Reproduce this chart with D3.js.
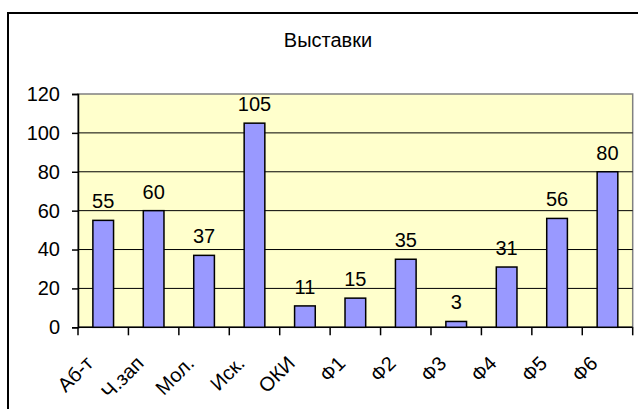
<!DOCTYPE html>
<html>
<head>
<meta charset="utf-8">
<script src="https://cdn.jsdelivr.net/npm/d3@7"></script>
<style>
  html, body { margin: 0; padding: 0; background: #fff; }
  svg { display: block; font-family: "Liberation Sans", Arial, sans-serif; }
</style>
</head>
<body>
<svg id="chart"></svg>
<script>
// 1) Data -----------------------------------------------------------
const categories = ['Аб-т', 'Ч.зап', 'Мол.', 'Иск.', 'ОКИ', 'Ф1', 'Ф2', 'Ф3', 'Ф4', 'Ф5', 'Ф6'];
const values = [55, 60, 37, 105, 11, 15, 35, 3, 31, 56, 80];
const yTicks = [0, 20, 40, 60, 80, 100, 120];
const title = 'Выставки';

// 2) Dimensions -----------------------------------------------------
const width = 638;
const height = 409;
const plot = { left: 78, top: 94, right: 632.7, bottom: 327.3 };
const fontSize = 20;

const svg = d3.select('#chart')
  .attr('width', width)
  .attr('height', height);

// 3) Outer frame (cut off at right and bottom) ----------------------
svg.append('rect')
  .attr('x', 8)
  .attr('y', 13)
  .attr('width', 700)
  .attr('height', 500)
  .attr('fill', '#fff')
  .attr('stroke', '#000')
  .attr('stroke-width', 2);

svg.append('text')
  .attr('x', 328)
  .attr('y', 47)
  .attr('text-anchor', 'middle')
  .attr('font-size', fontSize)
  .attr('fill', '#000')
  .text(title);

// 4) Scales ---------------------------------------------------------
const x = d3.scaleBand()
  .domain(categories)
  .range([plot.left, plot.right])
  .paddingInner(0.59)
  .paddingOuter(0.295);

const y = d3.scaleLinear()
  .domain([0, 120])
  .range([plot.bottom, plot.top]);

// 5) Plot area ------------------------------------------------------
svg.append('rect')
  .attr('x', plot.left)
  .attr('y', plot.top)
  .attr('width', plot.right - plot.left)
  .attr('height', plot.bottom - plot.top)
  .attr('fill', '#ffffcc')
  .attr('stroke', '#808080')
  .attr('stroke-width', 1.5);

svg.append('g')
  .selectAll('line')
  .data(yTicks.filter(d => d > 0 && d < 120))
  .enter().append('line')
  .attr('x1', plot.left)
  .attr('x2', plot.right)
  .attr('y1', d => y(d))
  .attr('y2', d => y(d))
  .attr('stroke', '#000')
  .attr('stroke-width', 1);

// 6) Axes -----------------------------------------------------------
const yAxis = svg.append('g')
  .attr('transform', `translate(${plot.left},0)`)
  .call(d3.axisLeft(y).tickValues(yTicks).tickSize(6).tickPadding(12));
yAxis.select('.domain').attr('stroke', '#000').attr('stroke-width', 1.5);
yAxis.selectAll('.tick line').attr('stroke', '#000').attr('stroke-width', 1.5);
yAxis.selectAll('text')
  .attr('font-size', fontSize)
  .attr('font-family', '"Liberation Sans", Arial, sans-serif')
  .attr('fill', '#000');

const step = x.step();
const xAxis = svg.append('g').attr('transform', `translate(0,${plot.bottom})`);
xAxis.append('line')
  .attr('x1', plot.left)
  .attr('x2', plot.right)
  .attr('stroke', '#000')
  .attr('stroke-width', 1.5);
xAxis.selectAll('.xtick')
  .data(d3.range(categories.length + 1))
  .enter().append('line')
  .attr('x1', i => plot.left + i * step)
  .attr('x2', i => plot.left + i * step)
  .attr('y1', 0)
  .attr('y2', 8)
  .attr('stroke', '#000')
  .attr('stroke-width', 1.5);

xAxis.selectAll('.xlabel')
  .data(categories)
  .enter().append('text')
  .attr('transform', d => `translate(${x(d) + x.bandwidth() / 2 - 18},${28}) rotate(-45)`)
  .attr('text-anchor', 'end')
  .attr('dy', '0.66em')
  .attr('font-size', fontSize)
  .attr('fill', '#000')
  .text(d => d);

// 7) Bars -----------------------------------------------------------
svg.append('g')
  .selectAll('rect')
  .data(values)
  .enter().append('rect')
  .attr('x', (d, i) => x(categories[i]))
  .attr('y', d => y(d))
  .attr('width', x.bandwidth())
  .attr('height', d => y(0) - y(d))
  .attr('fill', '#9999ff')
  .attr('stroke', '#000')
  .attr('stroke-width', 1.5);

// 8) Value labels ---------------------------------------------------
svg.append('g')
  .selectAll('text')
  .data(values)
  .enter().append('text')
  .attr('x', (d, i) => x(categories[i]) + x.bandwidth() / 2)
  .attr('y', d => y(d) - 12)
  .attr('text-anchor', 'middle')
  .attr('font-size', fontSize)
  .attr('fill', '#000')
  .text(d => d);
</script>
</body>
</html>
